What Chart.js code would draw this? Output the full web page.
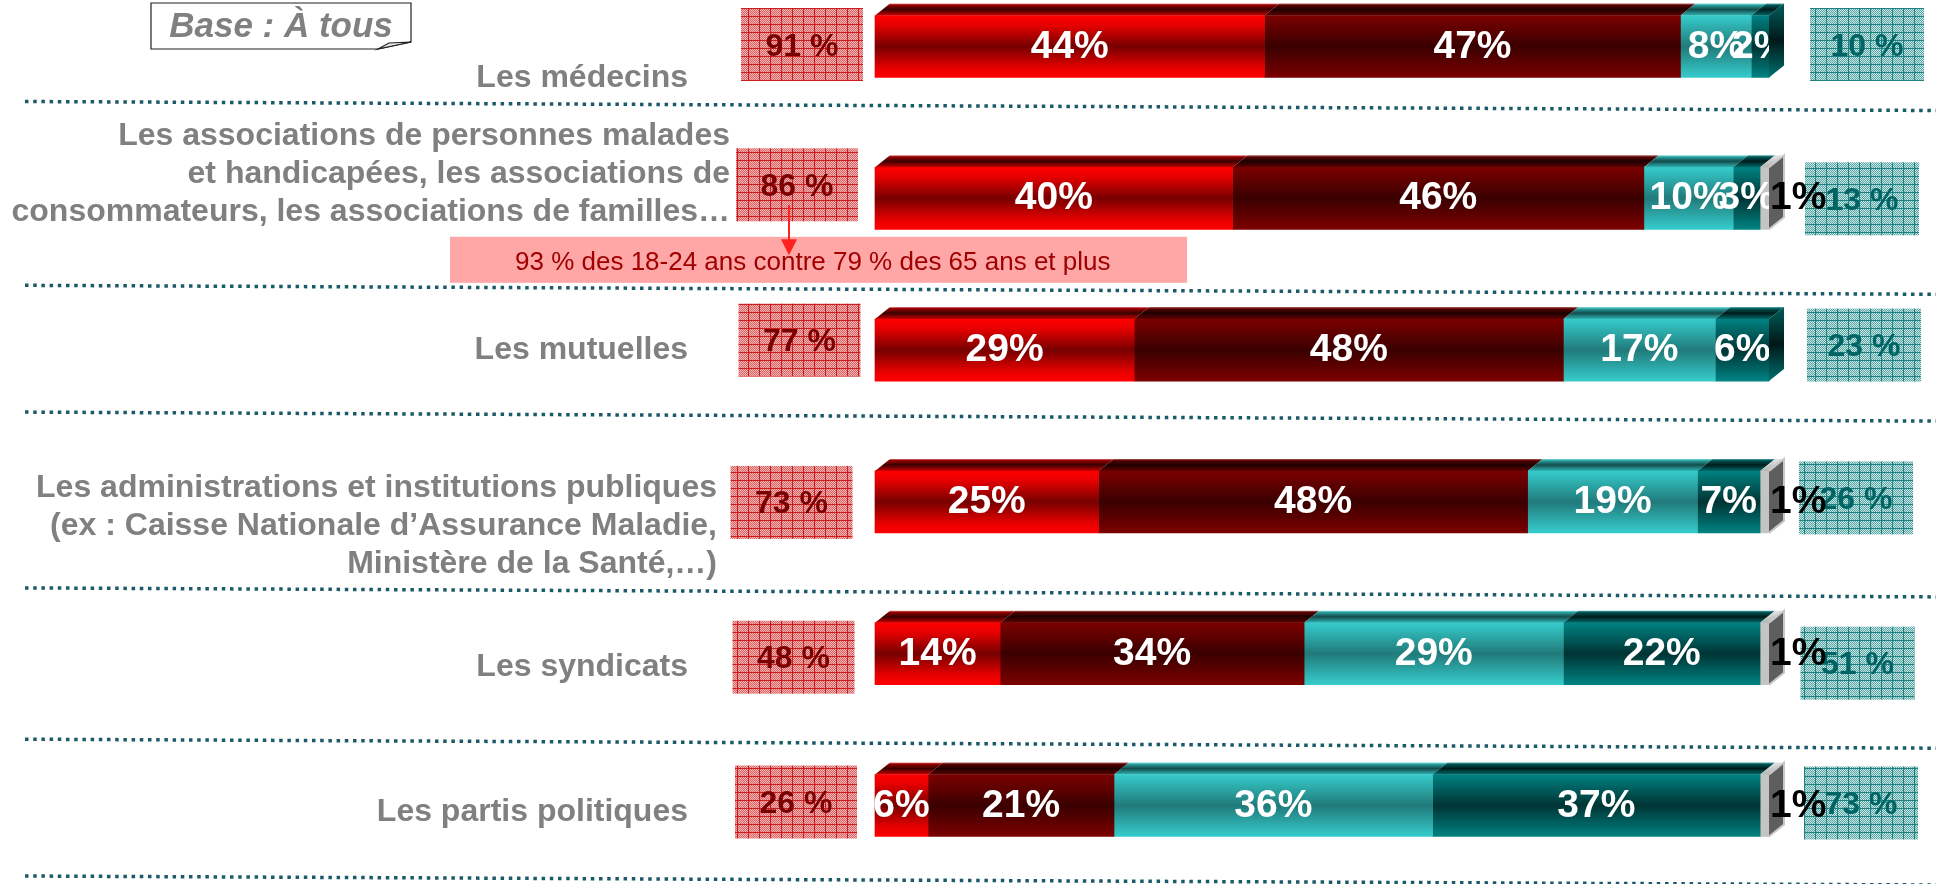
<!DOCTYPE html>
<html>
<head>
<meta charset="utf-8">
<script src="https://cdn.jsdelivr.net/npm/chart.js@4"></script>
<style>
html, body { margin: 0; padding: 0; background: #fff; }
#container { position: relative; width: 1936px; height: 884px; }
</style>
</head>
<body>
<div id="container"><canvas id="chart"></canvas></div>
<script>
// Confiance dans les acteurs de santé - barres empilées 100%
var categories = [
  ["Les médecins"],
  ["Les associations de personnes malades", "et handicapées, les associations de", "consommateurs, les associations de familles…"],
  ["Les mutuelles"],
  ["Les administrations et institutions publiques", "(ex : Caisse Nationale d’Assurance Maladie,", "Ministère de la Santé,…)"],
  ["Les syndicats"],
  ["Les partis politiques"]
];
var seriesNames = ["Tout à fait confiance", "Plutôt confiance", "Plutôt pas confiance", "Pas du tout confiance", "NSP"];
var toutAFait = [44, 40, 29, 25, 14, 6];
var plutot = [47, 46, 48, 48, 34, 21];
var plutotPas = [8, 10, 17, 19, 29, 36];
var pasDuTout = [2, 3, 6, 7, 22, 37];
var nsp = [0, 1, 0, 1, 1, 1];
var totalConfiance = ["91 %", "86 %", "77 %", "73 %", "48 %", "26 %"];
var totalPasConfiance = ["10 %", "13 %", "23 %", "26 %", "51 %", "73 %"];
var baseLabel = "Base : À tous";
var noteText = "93 % des 18-24 ans contre 79 % des 65 ans et plus";

// mise en page
var FONT = "'Liberation Sans', Arial, sans-serif";
var BAR_H = 62, DX = 15, DY = 12;
var labelGap = [187, 145, 187, 158, 187, 187];      // distance du bord droit du libellé au début de la barre
var labelDy = [32, -24.5, 0.5, 24.5, 13, 7];
var leftBoxDx = [-73, -78, -75.5, -83.5, -81.5, -79];
var leftBoxDy = [-2, -13.5, -10, 0.5, 3.5, -3.5];
var rightBoxDx = [98, 93, 95, 87, 88.5, 92];
var rightBoxDy = [-2, 0.5, -5, -4, 9.5, -2.5];
var sepDy = [59.5, 91.5, 66.5, 90.5, 90, 75];

var frontStops = [
  [[0, "#ff0000"], [0.15, "#e80000"], [0.5, "#760000"], [0.85, "#e80000"], [1, "#ff0000"]],
  [[0, "#7c0000"], [0.5, "#3a0000"], [1, "#7c0000"]],
  [[0, "#36cccc"], [0.5, "#217a7a"], [1, "#36cccc"]],
  [[0, "#008282"], [0.5, "#003434"], [1, "#008282"]],
  [[0, "#c4c4c4"], [1, "#c4c4c4"]]
];
var topStops = [
  [[0, "#e88080"], [0.12, "#960000"], [0.5, "#3a0000"], [1, "#c80000"]],
  [[0, "#b06060"], [0.15, "#540000"], [0.5, "#1e0000"], [1, "#600000"]],
  [[0, "#80e4e4"], [0.15, "#2a9c9c"], [0.5, "#124c4c"], [1, "#30b4b4"]],
  [[0, "#50a8a8"], [0.15, "#005252"], [0.5, "#001c1c"], [1, "#006a6a"]],
  [[0, "#e4e4e4"], [1, "#b4b4b4"]]
];
var sideStops = [
  [[0, "#a00000"], [0.5, "#400000"], [1, "#b00000"]],
  [[0, "#500000"], [0.5, "#200000"], [1, "#500000"]],
  [[0, "#208080"], [0.5, "#0c3c3c"], [1, "#208080"]],
  [[0, "#005c5c"], [0.5, "#001818"], [1, "#007070"]],
  [[0, "#5e5e5e"], [1, "#5e5e5e"]]
];

var raw = [toutAFait, plutot, plutotPas, pasDuTout, nsp];
var rowSum = categories.map(function (_, i) {
  return raw.reduce(function (s, arr) { return s + arr[i]; }, 0);
});

function grad(ctx, y0, y1, stops) {
  var g = ctx.createLinearGradient(0, y0, 0, y1);
  stops.forEach(function (s) { g.addColorStop(s[0], s[1]); });
  return g;
}

function makePattern(ctx, bg, dot, line) {
  var c = document.createElement("canvas");
  c.width = 11; c.height = 8;
  var p = c.getContext("2d");
  p.fillStyle = bg; p.fillRect(0, 0, 11, 8);
  p.fillStyle = dot;
  for (var yy = 0; yy < 8; yy++) {
    for (var xx = 0; xx < 11; xx++) {
      if ((xx + yy) % 2 === 0) p.fillRect(xx, yy, 1, 1);
    }
  }
  p.fillStyle = line;
  p.fillRect(0, 0, 11, 1);
  p.fillRect(0, 0, 1, 8);
  return ctx.createPattern(c, "repeat");
}

var datasets = raw.map(function (arr, d) {
  return {
    label: seriesNames[d],
    data: arr.map(function (v, i) { return v / rowSum[i] * 100; }),
    rawValues: arr,
    backgroundColor: function (c) {
      var chart = c.chart;
      if (!chart.chartArea) return frontStops[d][0][1];
      var y = chart.scales.y.getPixelForValue(c.dataIndex);
      return grad(chart.ctx, y - BAR_H / 2, y + BAR_H / 2, frontStops[d]);
    },
    borderWidth: 0,
    barThickness: BAR_H,
    clip: false
  };
});

function poly(ctx, pts, fill) {
  ctx.beginPath();
  ctx.moveTo(pts[0][0], pts[0][1]);
  for (var k = 1; k < pts.length; k++) ctx.lineTo(pts[k][0], pts[k][1]);
  ctx.closePath();
  ctx.fillStyle = fill;
  ctx.fill();
}

var decor = {
  id: "decor",
  afterDatasetsDraw: function (chart) {
    var ctx = chart.ctx, area = chart.chartArea;
    var n = chart.data.labels.length;
    var nd = chart.data.datasets.length;
    ctx.save();

    for (var i = 0; i < n; i++) {
      var bars = [];
      for (var d = 0; d < nd; d++) {
        var el = chart.getDatasetMeta(d).data[i];
        bars.push(el.getProps(["x", "y", "base", "height"], true));
      }
      var yc = bars[0].y, top = yc - BAR_H / 2, bot = yc + BAR_H / 2;

      // étiquettes blanches dans les segments
      ctx.font = "bold 39px " + FONT;
      ctx.textAlign = "center";
      ctx.textBaseline = "alphabetic";
      ctx.fillStyle = "#ffffff";
      for (d = 0; d < 4; d++) {
        var v = chart.data.datasets[d].rawValues[i];
        if (!v) continue;
        ctx.fillText(v + "%", (bars[d].x + bars[d].base) / 2, yc + 11);
      }

      // faces supérieures
      var last = 0;
      for (d = 0; d < nd; d++) {
        if (chart.data.datasets[d].rawValues[i] > 0) last = d;
      }
      for (d = 0; d < nd; d++) {
        if (!chart.data.datasets[d].rawValues[i]) continue;
        var b = bars[d];
        poly(ctx, [[b.base, top], [b.x, top], [b.x + DX, top - DY], [b.base + DX, top - DY]],
          grad(ctx, top - DY, top, topStops[d]));
      }
      // face latérale
      var e = bars[last].x;
      poly(ctx, [[e, top], [e + DX, top - DY], [e + DX, bot - DY], [e, bot]],
        grad(ctx, top - DY, bot, sideStops[last]));
      if (last === 4) {
        ctx.strokeStyle = "#c8c8c8";
        ctx.lineWidth = 2;
        ctx.beginPath();
        ctx.moveTo(e, top); ctx.lineTo(e + DX, top - DY); ctx.lineTo(e + DX, bot - DY); ctx.lineTo(e, bot);
        ctx.stroke();
      }

      // cadres des totaux
      var lx = area.left + leftBoxDx[i], ly = yc + leftBoxDy[i];
      ctx.fillStyle = makePattern(ctx, "#f2b4b4", "#dc6464", "#cc1c1c");
      ctx.fillRect(lx - 61, ly - 36.5, 122, 73);
      var rx = area.right + rightBoxDx[i], ry = yc + rightBoxDy[i];
      ctx.fillStyle = makePattern(ctx, "#c8e8e8", "#5aa4a4", "#1f8080");
      ctx.fillRect(rx - 57, ry - 36.5, 114, 73);
      ctx.font = "bold 32px " + FONT;
      ctx.textAlign = "center";
      ctx.fillStyle = "#7a0000";
      ctx.fillText(totalConfiance[i], lx, ly + 11);
      ctx.fillStyle = "#006464";
      ctx.fillText(totalPasConfiance[i], rx, ry + 11);

      // NSP en noir à droite de la barre
      if (nsp[i]) {
        ctx.font = "bold 39px " + FONT;
        ctx.textAlign = "left";
        ctx.fillStyle = "#000000";
        ctx.fillText(nsp[i] + "%", bars[4].x + 1, yc + 11);
      }

      // libellés des catégories
      var lines = chart.data.labels[i];
      ctx.font = "bold 32px " + FONT;
      ctx.textAlign = "right";
      ctx.textBaseline = "middle";
      ctx.fillStyle = "#808080";
      var y0 = yc + labelDy[i] - (lines.length - 1) * 38 / 2;
      lines.forEach(function (t, k) {
        ctx.fillText(t, area.left - labelGap[i], y0 + k * 38);
      });

      // séparateurs pointillés
      var sy = yc + sepDy[i];
      ctx.strokeStyle = "#1b5a6a";
      ctx.lineWidth = 3.5;
      ctx.setLineDash([3.5, 4.7]);
      ctx.beginPath();
      ctx.moveTo(25, sy - 4.5);
      ctx.lineTo(1936, sy + 4.5);
      ctx.stroke();
      ctx.setLineDash([]);
    }

    // encadré de note sous la 2e barre
    var y2 = chart.scales.y.getPixelForValue(1);
    ctx.fillStyle = "#ffa6a6";
    ctx.fillRect(area.left - 425, y2 + 38.5, 737, 46);
    ctx.font = "26px " + FONT;
    ctx.textAlign = "left";
    ctx.textBaseline = "alphabetic";
    ctx.fillStyle = "#a00000";
    ctx.fillText(noteText, area.left - 360, y2 + 71.5);
    // flèche
    var ax = area.left + leftBoxDx[1] - 8;
    ctx.strokeStyle = "#ff2020";
    ctx.lineWidth = 2;
    ctx.beginPath();
    ctx.moveTo(ax, y2 + 7);
    ctx.lineTo(ax, y2 + 45);
    ctx.stroke();
    poly(ctx, [[ax - 8, y2 + 41], [ax + 8, y2 + 41], [ax, y2 + 57]], "#ff2020");

    // cartouche "Base"
    ctx.beginPath();
    ctx.moveTo(151, 3); ctx.lineTo(411, 3); ctx.lineTo(411, 42); ctx.lineTo(378, 49); ctx.lineTo(151, 49);
    ctx.closePath();
    ctx.fillStyle = "#ffffff";
    ctx.fill();
    ctx.strokeStyle = "#202020";
    ctx.lineWidth = 1.2;
    ctx.stroke();
    ctx.beginPath();
    ctx.moveTo(378, 49); ctx.lineTo(389, 43); ctx.lineTo(411, 42);
    ctx.closePath();
    ctx.fillStyle = "#e8e8e8";
    ctx.fill();
    ctx.stroke();
    ctx.font = "italic bold 35px " + FONT;
    ctx.textAlign = "center";
    ctx.fillStyle = "#808080";
    ctx.fillText(baseLabel, 281, 37);

    ctx.restore();
  }
};

var chart = new Chart(document.getElementById("chart").getContext("2d"), {
  type: "bar",
  data: { labels: categories, datasets: datasets },
  options: {
    indexAxis: "y",
    responsive: true,
    maintainAspectRatio: false,
    animation: false,
    layout: { padding: { left: 875, right: 167, top: 46.5, bottom: 78.5 } },
    plugins: { legend: { display: false }, tooltip: { enabled: false } },
    scales: {
      x: { stacked: true, min: 0, max: 100, display: false },
      y: { stacked: true, display: false, offset: false }
    }
  },
  plugins: [decor]
});
</script>
</body>
</html>
